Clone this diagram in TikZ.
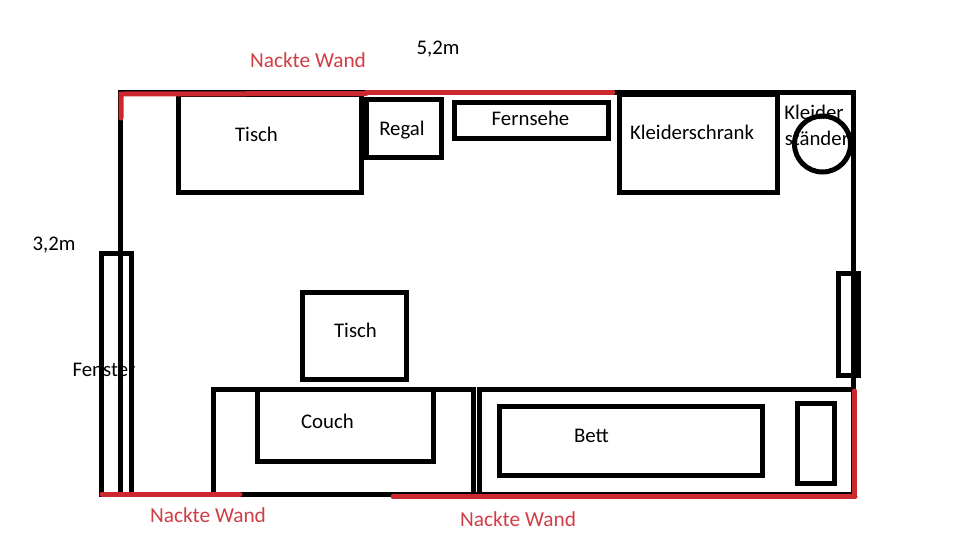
\documentclass[tikz,border=0pt]{standalone}
\usepackage{fontspec}
\setmainfont{Carlito}
\definecolor{wandred}{RGB}{204,40,48}
\tikzset{
  wall/.style={line width=3.75pt},
  furn/.style={line width=3.75pt},
  redwall/.style={line width=3.75pt,color=wandred,line cap=round},
  lbl/.style={inner sep=0.75pt,font=\fontsize{15.6pt}{18pt}\selectfont},
  redlbl/.style={lbl,font=\fontsize{16pt}{18pt}\selectfont,text=wandred!90!white}
}
\begin{document}
\begin{tikzpicture}[x=0.75pt,y=0.75pt,yscale=-1,xscale=1]
  \useasboundingbox (0,0) rectangle (960,540);

  % Walls
  \draw [wall] (118,92) -- (855.5,92) ;
  \draw [wall] (120.5,92) -- (120.5,494) ;
  \draw [wall] (853,92) -- (853,392) ;
  \draw [wall] (100,494.5) -- (855,494.5) ;

  % Furniture
  \draw [furn] (178.5,94) rectangle (361.5,192) ;
  \draw [furn] (366,99) rectangle (441.5,157.5) ;
  \draw [furn] (454,102) rectangle (608,138) ;
  \draw [furn] (619.5,94) rectangle (777.5,192.5) ;
  \draw [furn] (822.5,144) circle [radius=28] ;
  \draw [furn] (302.5,292) rectangle (406.5,379.5) ;
  \draw [furn] (213.5,389.5) rectangle (473,494.5) ;
  \draw [furn] (257.5,389.5) rectangle (433.5,461.5) ;
  \draw [furn] (479,389.5) rectangle (853,494.5) ;
  \draw [furn] (499,406.5) rectangle (762.5,475) ;
  \draw [furn] (797.5,403.5) rectangle (834.5,483.5) ;

  % Windows
  \draw [furn] (101.5,253) rectangle (131.5,494) ;
  \draw [furn] (120.5,253) -- (120.5,494) ;
  \draw [furn] (838.5,273.5) rectangle (858,375.5) ;

  % Red walls
  \draw [redwall] (121,118) -- (121,94) -- (366,93.5) ;
  \draw [redwall,line width=3.4pt] (366,92.5) -- (613,92.5) ;
  \draw [redwall] (102,494) -- (240,494) ;
  \draw [redwall] (393,496.5) -- (855,496.5) ;
  \draw [redwall,line width=4pt] (854.5,391) -- (854.5,496.5) ;

  % Text Node
  \node (wandtop) [redlbl] at (308,60) {Nackte Wand};
  \node (breite) [lbl] at (438,49.5) {5,2m};
  \node (hoehe) [lbl] at (54,245.5) {3,2m};
  \node (tischoben) [lbl] at (256.5,134) {Tisch};
  \node (regal) [lbl] at (402,130) {Regal};
  \node (fernsehe) [lbl] at (530.5,118) {Fernsehe};
  \node (schrank) [lbl] at (692,132) {Kleiderschrank};
  \node (kleider) [lbl] at (814,112) {Kleider};
  \node (staender) [lbl] at (817,138) {ständer};
  \node (fenster) [lbl] at (104,370) {Fenster};
  \node (tischunten) [lbl] at (355.5,330) {Tisch};
  \node (couch) [lbl] at (327.5,421) {Couch};
  \node (bett) [lbl] at (591.5,435.5) {Bett};
  \node (wandlinks) [redlbl] at (208,515) {Nackte Wand};
  \node (wandrechts) [redlbl] at (518,519) {Nackte Wand};
\end{tikzpicture}
\end{document}
